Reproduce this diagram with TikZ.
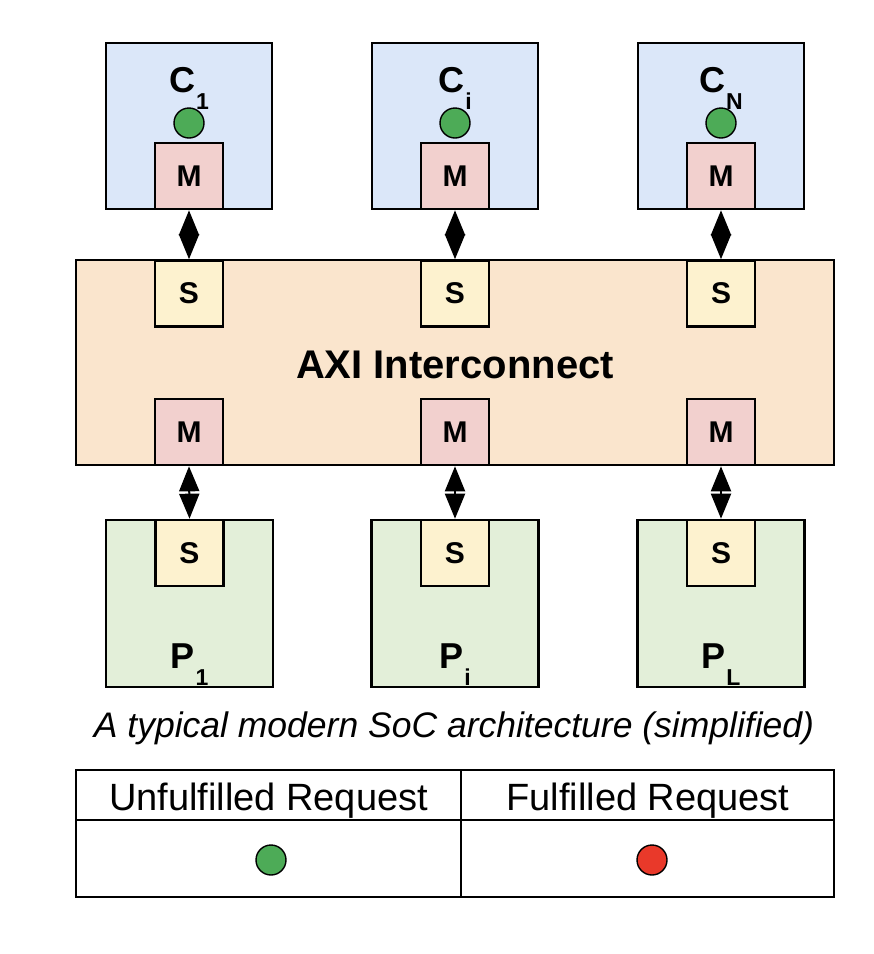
\documentclass[tikz,border=0pt]{standalone}
\usepackage{fontspec}
\setmainfont{Liberation Sans}
\usetikzlibrary{arrows.meta}
\definecolor{cblue}{HTML}{DBE7F9}
\definecolor{mred}{HTML}{F2D0CE}
\definecolor{axior}{HTML}{FAE5CD}
\definecolor{syel}{HTML}{FDF2CF}
\definecolor{pgreen}{HTML}{E3EFD9}
\definecolor{dotgreen}{HTML}{4DAB57}
\definecolor{dotred}{HTML}{E9392A}
\newcommand\subtx[1]{\kern1pt\raisebox{-17pt}{\fontsize{23}{23}\selectfont #1}}
\begin{document}
\begin{tikzpicture}[x=1pt,y=-1pt,
  box/.style={draw=black, line width=2.6pt, inner sep=0pt},
  cbox/.style={box, fill=cblue, minimum width=166pt, minimum height=166pt},
  pbox/.style={box, fill=pgreen, minimum width=167pt, minimum height=167pt},
  mbox/.style={box, fill=mred, minimum width=68pt, minimum height=66pt, font=\bfseries\fontsize{30}{30}\selectfont},
  sbox/.style={box, fill=syel, minimum width=68pt, minimum height=66pt, font=\bfseries\fontsize{30}{30}\selectfont},
  axibox/.style={box, fill=axior, minimum width=758pt, minimum height=205pt},
  lab/.style={inner sep=0pt, anchor=base, font=\bfseries\fontsize{36}{36}\selectfont},
  reqdot/.style={circle, draw=black, line width=1.4pt, minimum size=30pt, inner sep=0pt},
  link/.style={line width=2pt, {Triangle[length=25pt,width=20pt]}-{Triangle[length=25pt,width=20pt]}},
  cell/.style={draw=black, line width=2.4pt, inner sep=0pt},
  hdr/.style={inner sep=0pt, anchor=base, font=\fontsize{38}{38}\selectfont},
]
\useasboundingbox (0,0) rectangle (874,954);

% cores
\foreach \n/\x/\s in {1/189/1, i/455/i, n/721/N}{
  \node[cbox] (c\n) at (\x,126) {};
  \node[mbox] (cm\n) at (\x,176) {M};
  \node[reqdot, fill=dotgreen] (cd\n) at (\x,123) {};
  \node[lab] (cl\n) at (\x,92) {C\subtx{\s}};
}

% interconnect
\node[axibox] (axi) at (455,362.5) {};
\node[inner sep=0pt, anchor=base, font=\bfseries\fontsize{40}{40}\selectfont] (axil) at (455,378) {AXI Interconnect};
\foreach \n/\x in {1/189, i/455, n/721}{
  \node[sbox] (as\n) at (\x,293.5) {S};
  \node[mbox] (am\n) at (\x,432) {M};
}

% peripherals
\foreach \n/\x/\s in {1/189.5/1, i/455/i, n/721/L}{
  \node[pbox] (p\n) at (\x,603.5) {};
  \node[sbox] (ps\n) at (\x,553) {S};
  \node[lab] (pl\n) at (\x,668) {P\subtx{\s}};
}

% links
\foreach \n in {1,i,n}{
  \draw[link] (cm\n.south) -- (as\n.north);
  \draw[link] (am\n.south) -- (ps\n.north);
}

% caption
\node[inner sep=0pt, anchor=base, font=\itshape\fontsize{35.5}{35.5}\selectfont] (cap) at (454,737) {A typical modern SoC architecture (simplified)};

% legend table
\node[cell, minimum width=385pt, minimum height=50pt] (h1) at (268.5,795) {};
\node[cell, minimum width=373pt, minimum height=50pt] (h2) at (647.5,795) {};
\node[cell, minimum width=385pt, minimum height=77pt] (b1) at (268.5,858.5) {};
\node[cell, minimum width=373pt, minimum height=77pt] (b2) at (647.5,858.5) {};
\node[hdr] (h1t) at (268.5,810) {Unfulfilled Request};
\node[hdr] (h2t) at (648,810) {Fulfilled Request};
\node[reqdot, fill=dotgreen] (lg) at (271,860) {};
\node[reqdot, fill=dotred] (lr) at (652,860) {};
\end{tikzpicture}
\end{document}
